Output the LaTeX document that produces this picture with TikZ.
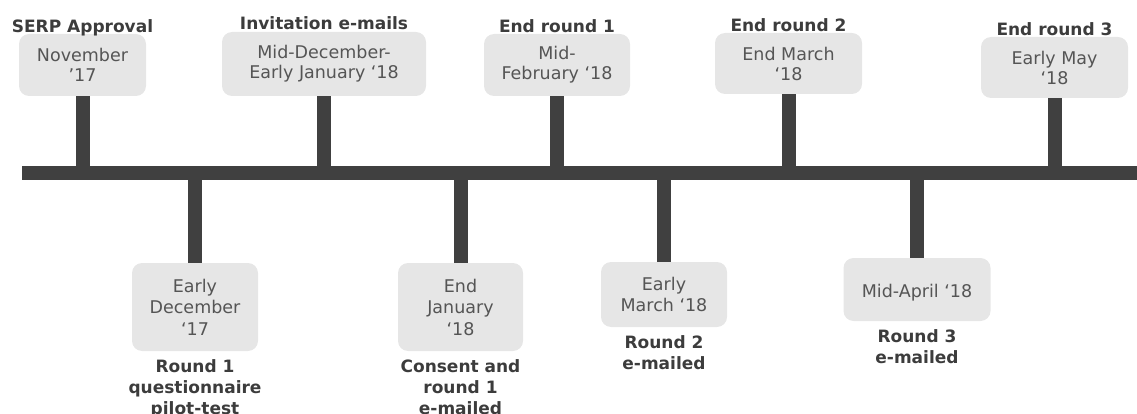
\documentclass[tikz,border=0pt]{standalone}
\usepackage{fontspec}
\setmainfont{DejaVu Sans}
\usetikzlibrary{positioning}
\definecolor{barcol}{HTML}{404040}
\definecolor{boxfill}{HTML}{E6E6E6}
\definecolor{boxtext}{HTML}{555555}
\definecolor{lbltext}{HTML}{3C3C3C}
\begin{document}
\begin{tikzpicture}[x=1pt,y=-1pt,
  datebox/.style={fill=boxfill, rounded corners=10pt, align=center, text=boxtext,
    font=\fontsize{17.5}{21.5}\selectfont, inner sep=0pt,
    execute at begin node={\rule{0pt}{19pt}}},
  topbox/.style={datebox, font=\fontsize{17.5}{20}\selectfont,
    execute at begin node={\rule{0pt}{22pt}}},
  eventlbl/.style={align=center, text=lbltext, inner sep=0pt,
    font=\fontsize{17}{21}\selectfont\bfseries},
  stem/.style={draw=barcol, line width=14pt},
]
\useasboundingbox (0,0) rectangle (1137,414);

% time axis
\node[fill=barcol, minimum width=1115pt, minimum height=14pt, inner sep=0pt] (axis) at (579.5,173) {};

% milestones above the axis
\node[topbox, minimum width=127pt, minimum height=62pt] (A) at (82.5,65) {November\\’17};
\node[topbox, minimum width=204pt, minimum height=64pt] (B) at (324,64) {Mid-December-\\Early January ‘18};
\node[topbox, minimum width=146pt, minimum height=62pt] (C) at (557,65) {Mid-\\February ‘18};
\node[topbox, minimum width=147pt, minimum height=61pt] (D) at (788.5,63.5) {End March\\‘18};
\node[topbox, minimum width=147pt, minimum height=61pt] (E) at (1054.5,67.5) {Early May\\‘18};

\node[eventlbl, anchor=base] (lA) at ([yshift=1pt]A.north) {SERP Approval};
\node[eventlbl, anchor=base] (lB) at ([yshift=2pt]B.north) {Invitation e-mails};
\node[eventlbl, anchor=base] (lC) at ([yshift=1pt]C.north) {End round 1};
\node[eventlbl, anchor=base] (lD) at ([yshift=1pt]D.north) {End round 2};
\node[eventlbl, anchor=base] (lE) at ([yshift=1pt]E.north) {End round 3};

% milestones below the axis
\node[datebox, minimum width=126pt, minimum height=88pt] (F) at (195,307) {Early\\December\\‘17};
\node[datebox, minimum width=125pt, minimum height=88pt] (G) at (460.5,307) {End\\January\\‘18};
\node[datebox, minimum width=126pt, minimum height=65pt] (H) at (664,294.5) {Early\\March ‘18};
\node[datebox, minimum width=147pt, minimum height=63pt] (I) at (917,289.5) {Mid-April ‘18};

\node[eventlbl, anchor=north] (lF) at ([yshift=-8.5pt]F.south) {Round 1\\questionnaire\\pilot-test};
\node[eventlbl, anchor=north] (lG) at ([yshift=-8.5pt]G.south) {Consent and\\round 1\\e-mailed};
\node[eventlbl, anchor=north] (lH) at ([yshift=-8.5pt]H.south) {Round 2\\e-mailed};
\node[eventlbl, anchor=north] (lI) at ([yshift=-8.5pt]I.south) {Round 3\\e-mailed};

% stems joining each box to the axis
\foreach \b in {A,B,C,D,E}
  \draw[stem] (\b.south) -- (\b.south |- axis.center);
\foreach \b in {F,G,H,I}
  \draw[stem] (\b.north |- axis.center) -- (\b.north);
\end{tikzpicture}
\end{document}
